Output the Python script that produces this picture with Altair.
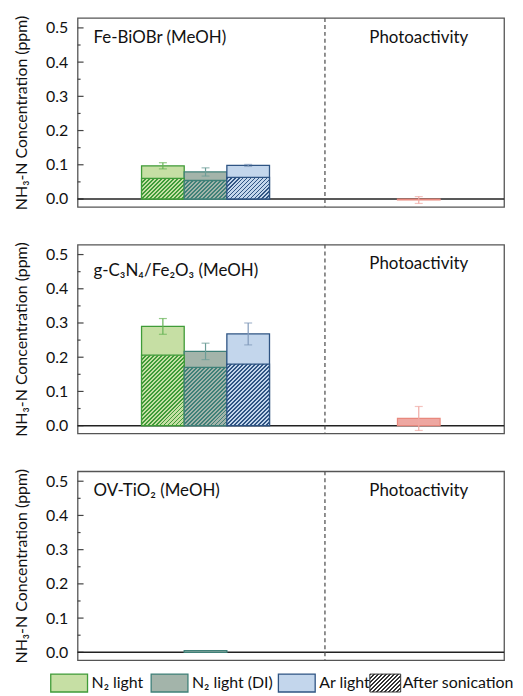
import altair as alt
import pandas as pd

# ---------------- data ----------------
conditions = ["N₂ light", "N₂ light (DI)", "Ar light"]
panel_titles = ["Fe-BiOBr (MeOH)", "g-C₃N₄/Fe₂O₃ (MeOH)", "OV-TiO₂ (MeOH)"]
totals = [[0.097, 0.079, 0.098], [0.290, 0.217, 0.268], [None, 0.005, None]]
after_sonication = [[0.060, 0.054, 0.063], [0.206, 0.170, 0.180], [None, None, None]]
errors = [[0.009, 0.012, 0.003], [0.023, 0.024, 0.032], [None, None, None]]
photo_values = [-0.003, 0.021, None]
photo_errors = [0.010, 0.035, None]
major_ticks = [0.0, 0.1, 0.2, 0.3, 0.4, 0.5]
minor_ticks = [0.05, 0.15, 0.25, 0.35, 0.45]
hatch_label = "After sonication"

# ---------------- style ----------------
FONT = "Lato"
W, H = 429, 190
X_DOM = [0, 10]
Y_DOM = [-0.023, 0.529]
fill_colors = ["#c6dfa4", "#a3b4aa", "#c3d6ec"]
stroke_colors = ["#3f9b38", "#3f8078", "#2f5483"]
err_colors = ["#66b356", "#6c9d97", "#8099b9"]
photo_fill, photo_stroke, photo_err = "#eea7a1", "#e8887d", "#f0aaa4"
SEP_X = 5.8
PHOTO_X = 8
YTITLE = "NH₃-N Concentration (ppm)"
# legend layout (pixels relative to the bottom panel's plot origin)
LEG_Y0, LEG_Y1 = 204, 222
LEG_SWATCH_X = [-27, 74, 202]
LEG_SWATCH_W = 37
LEG_HATCH_X, LEG_HATCH_W = 294, 31

xscale = alt.Scale(domain=X_DOM, nice=False, zero=False)
yscale = alt.Scale(domain=Y_DOM, nice=False, zero=False)
yaxis = alt.Axis(values=major_ticks, format=".1f", ticks=False, domain=False, grid=False,
                 labelPadding=10, labelFontSize=16, labelFont=FONT, labelColor="#111",
                 title=YTITLE, titleFont=FONT, titleFontSize=16, titleFontWeight="normal",
                 titleColor="#111", titlePadding=16)


def hatch_fill(w, h, light, dark, period=4.0, line=1.8):
    h = max(h, 1.0)
    k = (w + h) / (w * w + h * h)
    L = w + h
    stops = []
    i = 0
    while i * period / L < 1:
        a = i * period / L
        b = min((i * period + line) / L, 1)
        e = min((i + 1) * period / L, 1)
        stops += [{"offset": a, "color": dark}, {"offset": b, "color": dark},
                  {"offset": b, "color": light}, {"offset": e, "color": light}]
        i += 1
    return {"gradient": "linear", "x1": 0, "y1": 0, "x2": w * k, "y2": h * k, "stops": stops}


def bar_hatch(value, light, dark):
    w = W * 1.0 / (X_DOM[1] - X_DOM[0])
    h = value * H / (Y_DOM[1] - Y_DOM[0])
    return hatch_fill(w, h, light, dark)


def X(f):
    return alt.X(f, scale=xscale, axis=None)


def Y(f):
    return alt.Y(f, scale=yscale, axis=yaxis)


def legend_layers():
    out = []
    for j, c in enumerate(conditions):
        d = pd.DataFrame({"lab": [c]})
        x0 = LEG_SWATCH_X[j]
        out.append(alt.Chart(d).mark_rect(fill=fill_colors[j], stroke=stroke_colors[j],
                                          strokeWidth=1.3).encode(
            x=alt.value(x0), x2=alt.value(x0 + LEG_SWATCH_W),
            y=alt.value(LEG_Y0), y2=alt.value(LEG_Y1)))
        out.append(alt.Chart(d).mark_text(align="left", baseline="middle", font=FONT,
                                          fontSize=16, color="#111").encode(
            text="lab:N", x=alt.value(x0 + LEG_SWATCH_W + 4),
            y=alt.value((LEG_Y0 + LEG_Y1) / 2)))
    d = pd.DataFrame({"lab": [hatch_label]})
    out.append(alt.Chart(d).mark_rect(
        fill=hatch_fill(LEG_HATCH_W, LEG_Y1 - LEG_Y0, "#ffffff", "#333333", period=4.0, line=1.4),
        stroke="#333", strokeWidth=1).encode(
        x=alt.value(LEG_HATCH_X), x2=alt.value(LEG_HATCH_X + LEG_HATCH_W),
        y=alt.value(LEG_Y0), y2=alt.value(LEG_Y1)))
    out.append(alt.Chart(d).mark_text(align="left", baseline="middle", font=FONT,
                                      fontSize=16, color="#111").encode(
        text="lab:N", x=alt.value(LEG_HATCH_X + LEG_HATCH_W + 2),
        y=alt.value((LEG_Y0 + LEG_Y1) / 2)))
    return out


def panel(i, with_legend=False):
    df = pd.DataFrame({"condition": conditions, "total": totals[i],
                       "hatched": after_sonication[i], "err": errors[i]})
    df["xc"] = [conditions.index(c) + 2 for c in df["condition"]]
    df["x0"] = df["xc"] - 0.5
    df["x1"] = df["xc"] + 0.5
    df["base"] = 0.0
    df["lo"] = df["total"] - df["err"]
    df["hi"] = df["total"] + df["err"]
    bars = df.dropna(subset=["total"])
    errs = df.dropna(subset=["err"])

    layers = []
    layers.append(alt.Chart(pd.DataFrame({"v": major_ticks})).mark_rule(
        color="#444", strokeWidth=1.2).encode(y=Y("v:Q"), x=alt.value(0), x2=alt.value(6)))
    layers.append(alt.Chart(pd.DataFrame({"v": minor_ticks})).mark_rule(
        color="#444", strokeWidth=1.2).encode(y=Y("v:Q"), x=alt.value(0), x2=alt.value(3)))
    layers.append(alt.Chart(pd.DataFrame({"z": [0.0]})).mark_rule(
        color="#222", strokeWidth=1.5).encode(y=Y("z:Q")))
    layers.append(alt.Chart(pd.DataFrame({"s": [SEP_X]})).mark_rule(
        color="#555", strokeWidth=1.3, strokeDash=[4, 3]).encode(x=X("s:Q")))

    if len(bars):
        layers.append(alt.Chart(bars).mark_rect(strokeWidth=1.3).encode(
            x=X("x0:Q"), x2="x1:Q", y=Y("total:Q"), y2="base:Q",
            fill=alt.Fill("condition:N", scale=alt.Scale(domain=conditions, range=fill_colors),
                          legend=None),
            stroke=alt.Stroke("condition:N", scale=alt.Scale(domain=conditions, range=stroke_colors),
                              legend=None)))
    for j, c in enumerate(conditions):
        hv = after_sonication[i][j]
        if hv is None:
            continue
        row = df[df["condition"] == c]
        layers.append(alt.Chart(row).mark_rect(
            fill=bar_hatch(hv, fill_colors[j], stroke_colors[j]),
            stroke=stroke_colors[j], strokeWidth=1.3).encode(
            x=X("x0:Q"), x2="x1:Q", y=Y("hatched:Q"), y2="base:Q"))
    if len(errs):
        ecol = alt.Color("condition:N", scale=alt.Scale(domain=conditions, range=err_colors), legend=None)
        layers.append(alt.Chart(errs).mark_rule(strokeWidth=1.2).encode(
            x=X("xc:Q"), y=Y("lo:Q"), y2="hi:Q", color=ecol))
        for f in ["lo", "hi"]:
            layers.append(alt.Chart(errs).mark_tick(orient="horizontal", size=8, thickness=1.2).encode(
                x=X("xc:Q"), y=Y(f + ":Q"), color=ecol))

    if photo_values[i] is not None:
        pdf = pd.DataFrame({"v": [photo_values[i]], "e": [photo_errors[i]], "xc": [PHOTO_X]})
        pdf["x0"] = pdf["xc"] - 0.5
        pdf["x1"] = pdf["xc"] + 0.5
        pdf["base"] = 0.0
        pdf["lo"] = pdf["v"] - pdf["e"]
        pdf["hi"] = pdf["v"] + pdf["e"]
        layers.append(alt.Chart(pdf).mark_rect(fill=photo_fill, stroke=photo_stroke, strokeWidth=1.2).encode(
            x=X("x0:Q"), x2="x1:Q", y=Y("v:Q"), y2="base:Q"))
        layers.append(alt.Chart(pdf).mark_rule(color=photo_err, strokeWidth=1.2).encode(
            x=X("xc:Q"), y=Y("lo:Q"), y2="hi:Q"))
        for f in ["lo", "hi"]:
            layers.append(alt.Chart(pdf).mark_tick(orient="horizontal", size=8, thickness=1.2,
                                                   color=photo_err).encode(
                x=X("xc:Q"), y=Y(f + ":Q")))

    ty = 27 if i == 1 else 20
    layers.append(alt.Chart(pd.DataFrame({"t": [panel_titles[i]]})).mark_text(
        align="left", baseline="middle", font=FONT, fontSize=17, color="#111").encode(
        text="t:N", x=alt.value(16), y=alt.value(ty)))
    layers.append(alt.Chart(pd.DataFrame({"t": ["Photoactivity"], "xc": [PHOTO_X]})).mark_text(
        align="center", baseline="middle", font=FONT, fontSize=17, color="#111").encode(
        text="t:N", x=X("xc:Q"), y=alt.value(20)))

    if with_legend:
        layers += legend_layers()

    return alt.layer(*layers).properties(width=W, height=H)


chart = alt.vconcat(panel(0), panel(1), panel(2, True), spacing=38, bounds="flush").properties(
    padding={"left": 5, "top": 4, "right": 0, "bottom": 0}
).configure_view(stroke="#555", strokeWidth=1.3)

chart.save("out.html", embed_options={"renderer": "svg", "actions": False})
